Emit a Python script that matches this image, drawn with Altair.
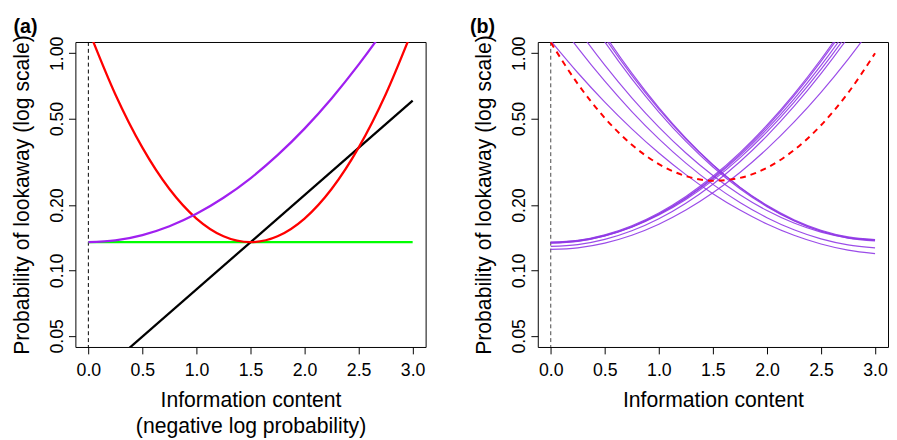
import altair as alt
import pandas as pd

# ---------------- data ----------------
x_grid = [0.0, 0.25, 0.5, 0.75, 1.0, 1.25, 1.5, 1.75, 2.0, 2.25, 2.5, 2.75, 3.0]

# Panel (a)
a_purple = [0.1349, 0.1375, 0.1455, 0.1598, 0.1823, 0.2160, 0.2657, 0.3394,
            0.4498, 0.6197, 0.8862, 1.316, 2.029]
a_red = [1.288, 0.6463, 0.3677, 0.2371, 0.1733, 0.1436, 0.1349, 0.1436,
         0.1733, 0.2371, 0.3677, 0.6463, 1.288]
a_green_x = [0.0, 3.0]
a_green = [0.1349, 0.1349]
a_black_x = [0.0, 3.0]
a_black = [0.03006, 0.6053]

# Panel (b)
b_rising = {
    "r1": [0.1250, 0.1271, 0.1336, 0.1452, 0.1632, 0.1896, 0.2277, 0.2827, 0.3629, 0.4817, 0.6607, 0.9376, 1.375],
    "r2": [0.1291, 0.1315, 0.1390, 0.1523, 0.1730, 0.2040, 0.2495, 0.3167, 0.4167, 0.5689, 0.8054, 1.183, 1.803],
    "r3": [0.1340, 0.1365, 0.1442, 0.1581, 0.1798, 0.2122, 0.2598, 0.3300, 0.4347, 0.5943, 0.8429, 1.240, 1.893],
    "r4": [0.1346, 0.1371, 0.1450, 0.1594, 0.1817, 0.2152, 0.2645, 0.3377, 0.4472, 0.6154, 0.8790, 1.304, 2.007],
    "r5": [0.1334, 0.1359, 0.1441, 0.1586, 0.1816, 0.2160, 0.2670, 0.3431, 0.4581, 0.6359, 0.9173, 1.375, 2.143],
    "r6": [0.1349, 0.1375, 0.1458, 0.1606, 0.1840, 0.2191, 0.2712, 0.3489, 0.4669, 0.6492, 0.9386, 1.411, 2.204],
}
b_falling = {
    "f1": [1.141, 0.8135, 0.5958, 0.4487, 0.3472, 0.2761, 0.2256, 0.1896, 0.1636, 0.1451, 0.1323, 0.1240, 0.1194],
    "f2": [1.558, 1.059, 0.7434, 0.5389, 0.4033, 0.3119, 0.2490, 0.2054, 0.1749, 0.1539, 0.1397, 0.1311, 0.1271],
    "f3": [1.961, 1.292, 0.8817, 0.6237, 0.4571, 0.3474, 0.2735, 0.2231, 0.1887, 0.1653, 0.1501, 0.1413, 0.1378],
    "f4": [2.793, 1.740, 1.129, 0.7626, 0.5364, 0.3928, 0.2996, 0.2378, 0.1967, 0.1694, 0.1518, 0.1418, 0.1378],
    "f5": [2.967, 1.833, 1.180, 0.7917, 0.5534, 0.4030, 0.3059, 0.2418, 0.1994, 0.1712, 0.1532, 0.1428, 0.1388],
    "f6": [3.121, 1.908, 1.217, 0.8096, 0.5619, 0.4064, 0.3067, 0.2413, 0.1982, 0.1696, 0.1514, 0.1409, 0.1369],
}
b_red = [1.1225, 0.7231, 0.5033, 0.3791, 0.3088, 0.2719, 0.2590, 0.2667,
         0.2971, 0.3579, 0.4661, 0.6567, 1.0007]

x_ticks = [0.0, 0.5, 1.0, 1.5, 2.0, 2.5, 3.0]
y_ticks = [0.05, 0.1, 0.2, 0.5, 1.0]
vline_x = [0.0]

# ---------------- scales & axes ----------------
X_DOMAIN = [-0.12, 3.12]
Y_DOMAIN = [0.0444, 1.127]
W, H = 356, 310
FONT = "Liberation Sans"


def xenc(title):
    return alt.X(
        "x:Q",
        scale=alt.Scale(domain=X_DOMAIN, nice=False, zero=False),
        axis=alt.Axis(values=x_ticks, format=".1f", labelFontSize=18, labelPadding=8,
                      tickSize=7, tickColor="black", labelColor="black", domain=False,
                      grid=False, labelFlush=False, labelOverlap=False, title=title,
                      titleFontSize=21.5, titleFontWeight="normal", titleColor="black",
                      titlePadding=10, titleLineHeight=26.6),
    )


def yenc():
    return alt.Y(
        "y:Q",
        scale=alt.Scale(type="log", domain=Y_DOMAIN, nice=False),
        axis=alt.Axis(values=y_ticks, format=".2f", labelAngle=270, labelAlign="center",
                      labelBaseline="bottom", labelFontSize=18, labelPadding=2,
                      tickSize=7, tickColor="black", labelColor="black", domain=False,
                      grid=False, labelOverlap=False, labelFlush=False,
                      title="Probability of lookaway (log scale)", titleFontSize=21.5,
                      titleFontWeight="normal", titleColor="black", titlePadding=16),
    )


def line_df(xs, ys, name="s"):
    return pd.DataFrame({"x": xs, "y": ys, "s": [name] * len(xs)})


def vrule(color):
    return alt.Chart(pd.DataFrame({"x": vline_x})).mark_rule(
        color=color, strokeWidth=1, strokeDash=[4, 3]
    ).encode(x=alt.X("x:Q", scale=alt.Scale(domain=X_DOMAIN, nice=False, zero=False)))


def curve(df, color, width, title, dash=None, interp="monotone", opacity=1.0):
    kw = dict(color=color, strokeWidth=width, clip=True, interpolate=interp, opacity=opacity)
    if dash:
        kw["strokeDash"] = dash
    return alt.Chart(df).mark_line(**kw).encode(x=xenc(title), y=yenc(), detail="s:N")


def panel_title(text, dx):
    return alt.TitleParams(text, anchor="start", frame="group", fontSize=20,
                           fontWeight="bold", baseline="alphabetic", offset=-18.4,
                           color="black", dx=dx)


# ---------------- panel (a) ----------------
title_a = ["Information content", "(negative log probability)"]
panel_a = alt.layer(
    vrule("black"),
    curve(line_df(a_green_x, a_green), "#00FF00", 2.3, title_a, interp="linear"),
    curve(line_df(a_black_x, a_black), "black", 2.3, title_a, interp="linear"),
    curve(line_df(x_grid, a_red), "#FF0000", 2.3, title_a),
    curve(line_df(x_grid, a_purple), "#A020F0", 2.3, title_a),
).properties(width=W, height=H, title=panel_title("(a)", -63))

# ---------------- panel (b) ----------------
b_frames = []
for k, v in b_rising.items():
    b_frames.append(line_df(x_grid, v, k))
for k, v in b_falling.items():
    b_frames.append(line_df(x_grid, v, k))
b_purple_df = pd.concat(b_frames, ignore_index=True)

title_b = "Information content"
panel_b = alt.layer(
    vrule("#444444"),
    curve(b_purple_df, "#9038E6", 1.2, title_b, opacity=0.9),
    curve(line_df(x_grid, b_red), "#FF0000", 2.0, title_b, dash=[6, 5]),
).properties(width=W, height=H, title=panel_title("(b)", -69))

chart = alt.hconcat(panel_a, panel_b, spacing=114, bounds="flush").properties(
    padding={"left": 2.5, "top": 5, "right": 0, "bottom": 0}
).configure(font=FONT).configure_view(stroke="black", strokeWidth=1)

chart.save("out.html", embed_options={"renderer": "svg", "actions": False})
